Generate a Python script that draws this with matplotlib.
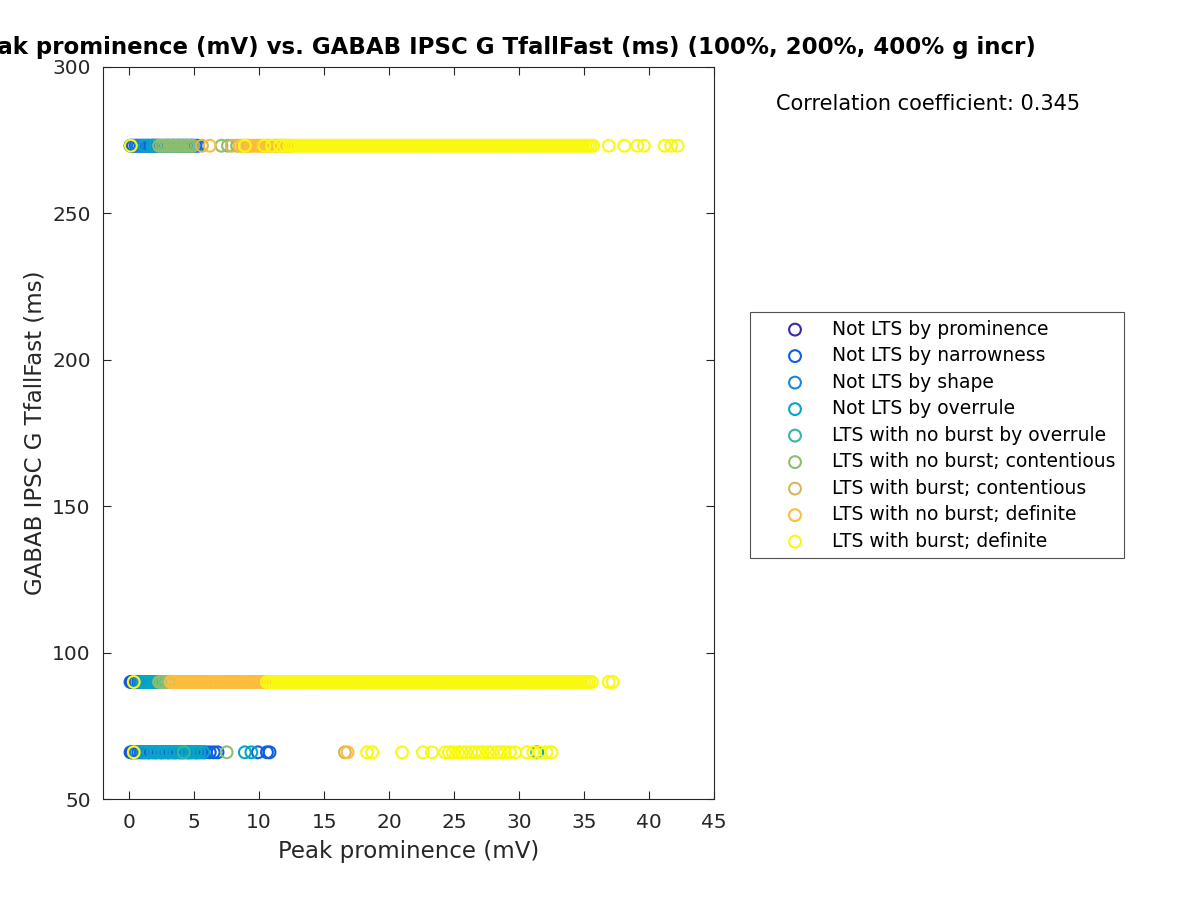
import numpy as np
import matplotlib
matplotlib.use("Agg")
import matplotlib.pyplot as plt

# y levels of the three rows (ms)
y_levels = [273, 90, 66]

labels = ["Not LTS by prominence", "Not LTS by narrowness", "Not LTS by shape",
          "Not LTS by overrule", "LTS with no burst by overrule",
          "LTS with no burst; contentious", "LTS with burst; contentious",
          "LTS with no burst; definite", "LTS with burst; definite"]
colors = ["#3e26a8", "#0f5ee0", "#1a86d6", "#08a6c6", "#33b8a1",
          "#8bbf6f", "#d6b857", "#fcbd3c", "#f9f90f"]

# x values (peak prominence, mV) per category, one list per row [273, 90, 66]
prominence = [[0.2], [0.2], [0.2]]
narrowness = [
    [0.1, 0.3, 0.5, 0.7, 0.9, 1.1, 1.3, 1.5, 1.7, 1.9, 2.1, 2.3, 2.5, 2.7, 2.9, 3.1, 3.3,
     3.5, 3.7, 3.9, 4.1, 4.3, 4.5, 4.7, 4.9, 5.1, 5.3],
    [0.1, 0.3, 0.5, 0.7, 0.9, 1.1, 1.3, 1.5, 1.8],
    [0.1, 0.3, 0.5, 0.7, 0.9, 1.1, 1.3, 1.5, 1.7, 1.9, 2.1, 2.3, 2.5, 2.7, 2.9, 3.1, 3.3,
     3.5, 3.7, 3.9, 4.1, 4.3, 4.5, 4.7, 4.9, 5.1, 5.3, 5.5, 5.7, 5.9, 6.2, 6.5, 6.8,
     9.9, 10.6, 10.8],
]
shape = [
    [0.6, 1.0, 1.4, 1.8, 2.2, 3.0, 3.8, 4.4],
    [0.4, 0.8, 1.1, 1.4, 1.7, 2.0],
    [0.5, 1.0, 1.5, 2.0, 2.5, 3.0, 3.5, 4.0, 4.6, 5.2],
]
overrule = [
    [1.2, 1.8, 2.0, 4.1, 4.8],
    [1.0, 1.2, 1.4, 1.6, 1.8, 2.0, 2.2, 2.4],
    [1.2, 1.5, 1.8, 2.1, 2.4, 2.7, 3.0, 3.3, 3.6, 3.9, 4.2, 4.5, 4.8, 5.1, 5.4, 5.7,
     8.9, 9.4, 31.4],
]
nb_overrule = [[3.4], [2.4], [4.2]]
nb_contentious = [
    [2.3, 2.5, 2.7, 2.9, 3.1, 3.3, 3.5, 3.7, 3.9, 4.1, 4.3, 4.5, 4.7, 4.9, 7.1, 7.6, 8.3],
    [2.3, 2.5, 2.7, 2.9, 3.1],
    [7.5],
]
b_contentious = [[5.6, 7.9, 9.1], [3.6, 4.3, 5.4], [16.6]]
nb_definite = [
    [6.2, 8.5, 8.7, 8.9, 9.1, 9.3, 9.5, 9.7, 9.9, 10.1, 10.3, 10.5, 10.7, 10.9, 11.1,
     11.3, 11.5, 11.7, 11.9, 12.1, 12.3],
    [3.2, 3.4, 3.6, 3.8, 4.0, 4.2, 4.4, 4.6, 4.8, 5.0, 5.2, 5.4, 5.6, 5.8, 6.0, 6.2, 6.4,
     6.6, 6.8, 7.0, 7.2, 7.4, 7.6, 7.8, 8.0, 8.2, 8.4, 8.6, 8.8, 9.0, 9.2, 9.4, 9.6,
     9.8, 10.0, 10.2, 10.4, 8.1],
    [16.8],
]
b_definite = [
    [0.13, 8.9, 10.4, 11.0, 11.6, 12.0,
     12.3, 12.5, 12.7, 12.9, 13.1, 13.3, 13.5, 13.7, 13.9, 14.1, 14.3, 14.5, 14.7, 14.9,
     15.1, 15.3, 15.5, 15.7, 15.9, 16.1, 16.3, 16.5, 16.7, 16.9, 17.1, 17.3, 17.5, 17.7,
     17.9, 18.1, 18.3, 18.5, 18.7, 18.9, 19.1, 19.3, 19.5, 19.7, 19.9, 20.1, 20.3, 20.5,
     20.7, 20.9, 21.1, 21.3, 21.5, 21.7, 21.9, 22.1, 22.3, 22.5, 22.7, 22.9, 23.1, 23.3,
     23.5, 23.7, 23.9, 24.1, 24.3, 24.5, 24.7, 24.9, 25.1, 25.3, 25.5, 25.7, 25.9, 26.1,
     26.3, 26.5, 26.7, 26.9, 27.1, 27.3, 27.5, 27.7, 27.9, 28.1, 28.3, 28.5, 28.7, 28.9,
     29.1, 29.3, 29.5, 29.7, 29.9, 30.1, 30.3, 30.5, 30.7, 30.9, 31.1, 31.3, 31.5, 31.7,
     31.9, 32.1, 32.3, 32.5, 32.7, 32.9, 33.1, 33.3, 33.5, 33.7, 33.9, 34.1, 34.3, 34.5,
     34.7, 34.9, 35.1, 35.3, 35.5, 35.7,
     36.9, 38.1, 39.1, 39.6, 41.2, 41.7, 42.2],
    [0.35,
     10.6, 10.8, 11.0, 11.2, 11.4, 11.6, 11.8, 12.0, 12.2, 12.4, 12.6, 12.8, 13.0, 13.2,
     13.4, 13.6, 13.8, 14.0, 14.2, 14.4, 14.6, 14.8, 15.0, 15.2, 15.4, 15.6, 15.8, 16.0,
     16.2, 16.4, 16.6, 16.8, 17.0, 17.2, 17.4, 17.6, 17.8, 18.0, 18.2, 18.4, 18.6, 18.8,
     19.0, 19.2, 19.4, 19.6, 19.8, 20.0, 20.2, 20.4, 20.6, 20.8, 21.0, 21.2, 21.4, 21.6,
     21.8, 22.0, 22.2, 22.4, 22.6, 22.8, 23.0, 23.2, 23.4, 23.6, 23.8, 24.0, 24.2, 24.4,
     24.6, 24.8, 25.0, 25.2, 25.4, 25.6, 25.8, 26.0, 26.2, 26.4, 26.6, 26.8, 27.0, 27.2,
     27.4, 27.6, 27.8, 28.0, 28.2, 28.4, 28.6, 28.8, 29.0, 29.2, 29.4, 29.6, 29.8, 30.0,
     30.2, 30.4, 30.6, 30.8, 31.0, 31.2, 31.4, 31.6, 31.8, 32.0, 32.2, 32.4, 32.6, 32.8,
     33.0, 33.2, 33.4, 33.6, 33.8, 34.0, 34.2, 34.4, 34.6, 34.8, 35.0, 35.2, 35.4, 35.6,
     36.9, 37.2],
    [0.35, 18.3, 18.7, 21.0, 22.6, 23.3, 24.3, 24.6, 24.9, 25.3, 25.6, 25.9, 26.3, 26.6,
     26.9, 27.2, 27.6, 27.9, 28.3, 28.6, 28.9, 29.3, 29.7, 30.6, 31.1, 31.6, 32.1, 32.5],
]
groups = [prominence, narrowness, shape, overrule, nb_overrule, nb_contentious,
          b_contentious, nb_definite, b_definite]

corr_text = "Correlation coefficient: 0.345"
title = "Peak prominence (mV) vs. GABAB IPSC G TfallFast (ms) (100%, 200%, 400% g incr)"

fig = plt.figure(figsize=(12, 9), dpi=100)
ax = fig.add_axes([0.086, 0.112, 0.509, 0.814])

for grp, lab, col in zip(groups, labels, colors):
    xs, ys = [], []
    for row, lev in zip(grp, y_levels):
        xs += row
        ys += [lev] * len(row)
    ax.scatter(xs, ys, s=72, facecolors="none", edgecolors=col, linewidths=1.5, label=lab)

ax.set_xlim(-2, 45)
ax.set_ylim(50, 300)
ax.set_xticks(np.arange(0, 46, 5))
ax.set_yticks([50, 100, 150, 200, 250, 300])
ax.tick_params(direction="in", top=True, right=True, labelsize=14.5, colors="#262626",
               length=6)
ax.tick_params(axis="x", pad=10)
ax.tick_params(axis="y", pad=9)
for sp in ax.spines.values():
    sp.set_color("#262626")
    sp.set_linewidth(0.8)
ax.set_xlabel("Peak prominence (mV)", fontsize=16.5, color="#262626", labelpad=6)
ax.set_ylabel("GABAB IPSC G TfallFast (ms)", fontsize=16.5, color="#262626")

fig.text(1036 / 1200, 0.947, title, fontsize=16.5, fontweight="bold", ha="right", va="center")
fig.text(776 / 1200, 0.8844, corr_text, fontsize=15, va="center")

leg = ax.legend(loc="upper left", bbox_to_anchor=(0.625, 0.6533), bbox_transform=fig.transFigure,
                fontsize=13.5, frameon=True, fancybox=False, edgecolor="#262626",
                handlelength=4.0, handletextpad=0.0, labelspacing=0.4, borderpad=0.4,
                borderaxespad=0)
leg.get_frame().set_linewidth(0.8)

fig.savefig("out.png", dpi=100)
